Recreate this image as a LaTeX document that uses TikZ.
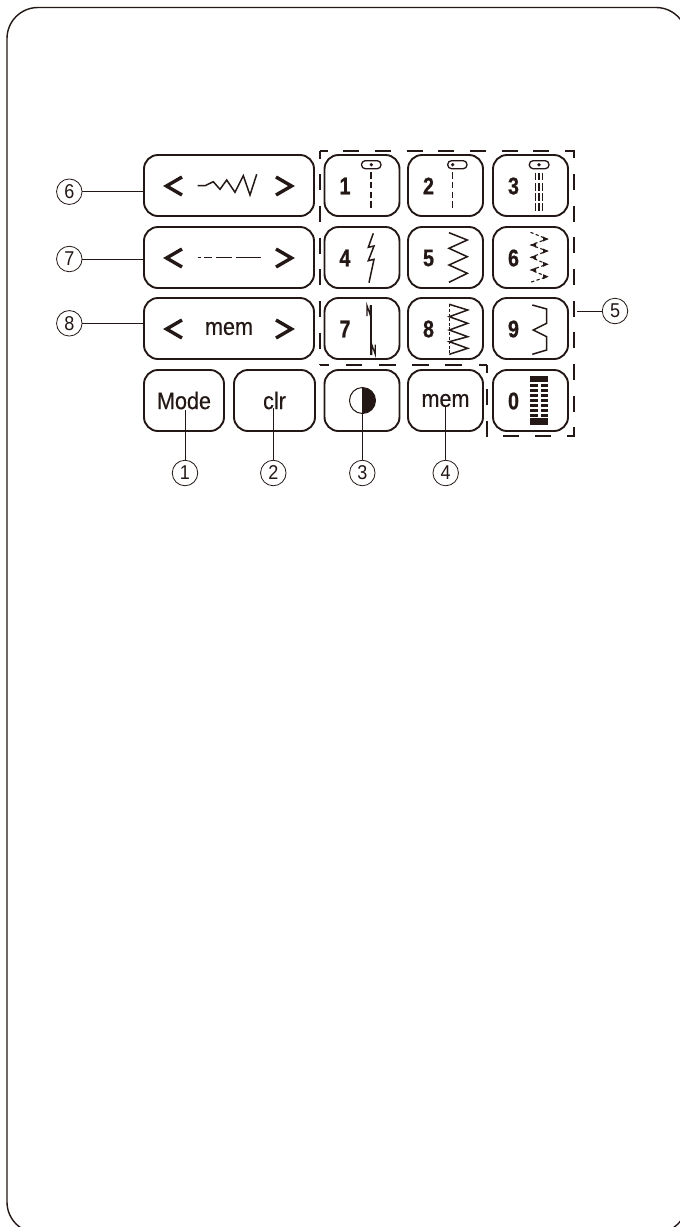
\documentclass[tikz,border=0pt]{standalone}
\usepackage{fontspec}
\usepackage{tikz}
\definecolor{keyink}{RGB}{35, 24, 21}
\newfontfamily\keyfont{Liberation Sans}[FakeStretch=0.9,FakeBold=0.25]
\newfontfamily\numfont{Liberation Sans}[FakeStretch=0.9]
\newfontfamily\digitfont{Liberation Sans}[FakeStretch=0.82,FakeBold=0.8,UprightFont=* Bold]

\begin{document}
\begin{tikzpicture}[
  x=1pt, y=-1pt,
  every node/.style={text=keyink},
  widekey/.style={draw=keyink, line width=1.9pt, rounded corners=14pt, minimum width=170pt, minimum height=61pt, inner sep=0pt, font=\keyfont\fontsize{24}{24}\selectfont},
  smallkey/.style={draw=keyink, line width=1.9pt, rounded corners=14pt, minimum width=75pt, minimum height=61pt, inner sep=0pt, font=\keyfont\fontsize{24}{24}\selectfont},
  digit/.style={font=\digitfont\fontsize{24}{24}\selectfont, inner sep=0pt},
  callout/.style={circle, draw=keyink, line width=0.8pt, minimum size=25.5pt, inner sep=0pt, font=\numfont\fontsize{20}{20}\selectfont},
  leader/.style={draw=keyink, line width=1pt},
  chevron/.style={draw=keyink, line width=3.4pt, miter limit=10},
  stitch/.style={draw=keyink, line width=1.5pt, line join=miter},
  needle/.style={draw=keyink, line width=1.3pt, rounded corners=3.8pt, fill=white},
  groupline/.style={draw=keyink, line width=1.3pt, dash pattern=on 16pt off 15.7pt, dash phase=8.5pt}
]
\useasboundingbox (0,0) rectangle (680,1227);
\clip (0,0) rectangle (680,1227);
\fill[white] (0,0) rectangle (680,1227);

% Panel outline
\draw[keyink, line width=1.4pt, rounded corners=31pt] (7,7.5) rectangle (687,1233);

% Group of pattern keys
\draw[groupline] (320,151) -- (320,365);
\draw[groupline] (320,151) -- (574,151) -- (574,436) -- (487,436) -- (487,365);
\draw[groupline, dash pattern=on 16.7pt off 16.6pt, dash phase=8.4pt] (487,365) -- (320,365);

% Wide keys
\node[widekey] (keyStitch) at (229,185.5) {};
\node[widekey] (keyLength) at (229,257.5) {};
\node[widekey] (keyMem) at (229,328.5) {\raisebox{-1.5pt}{mem}};
\foreach \cy in {186,258,329} {
  \draw[chevron] (182,\cy-9) -- (166.5,\cy) -- (182,\cy+9);
  \draw[chevron] (276,\cy-9) -- (291.5,\cy) -- (276,\cy+9);
}

% Bottom row
\node[smallkey, minimum width=80pt] (keyMode) at (184,400.5) {Mode};
\node[smallkey, minimum width=81pt] (keyClr) at (274.5,400.5) {clr};
\node[smallkey] (keyTone) at (362,400.5) {};
\node[smallkey] (keyStore) at (445.5,400.5) {\raisebox{-1.5pt}{mem}};

% Pattern keys with their digits
\foreach \n/\cx/\cy in {1/362/185.5, 2/445.5/185.5, 3/530.5/185.5,
                        4/362/257.5, 5/445.5/257.5, 6/530.5/257.5,
                        7/362/328.5, 8/445.5/328.5, 9/530.5/328.5,
                        0/530.5/400.5} {
  \node[smallkey] (key\n) at (\cx,\cy) {};
  \node[digit] (digit\n) at ([xshift=-17pt,yshift=-0.5pt]key\n.center) {\n};
}

% Stitch icons on the wide keys
\draw[stitch] (197.7,185.7) -- (205,185.7) -- (213.3,181.7) -- (220,189.3) -- (226.7,180) -- (235,192.3) -- (243.3,175.7) -- (250,195) -- (256.7,174.3);
\draw[stitch, line width=1.5pt] (197.7,257.7) -- (201,257.7) (204,257.7) -- (212.3,257.7) (216,257.7) -- (231.7,257.7) (236,257.7) -- (260.7,257.7);

% Keys 1 to 3
\draw[stitch, dash pattern=on 6.5pt off 3.3pt] (371,172) -- (371,211);
\draw[needle] (361.5,160.7) rectangle (381,168.7);
\fill[keyink] (371.3,164.7) circle (1.8);
\draw[stitch, dash pattern=on 6.5pt off 3.3pt] (452.7,172) -- (452.7,211);
\draw[needle] (447.7,160.7) rectangle (467,168.7);
\fill[keyink] (452.7,164.7) circle (1.8);
\foreach \sx in {535.3,539,542.7}
  \draw[stitch, line width=1.2pt, dash pattern=on 7.6pt off 2.6pt] (\sx,172.7) -- (\sx,211);
\draw[needle] (529.3,160.7) rectangle (549,168.7);
\fill[keyink] (539,164.7) circle (1.8);

% Keys 4 to 6
\draw[stitch] (373.3,233.3) -- (368.3,247.3) -- (374,246) -- (368.3,260.7) -- (374,259.3) -- (369,282.7);
\draw[stitch] (449,232.7) -- (467.3,240) -- (449,248.3) -- (467.3,256.7) -- (449,265) -- (467.3,273.3) -- (449,282.3);
\draw[stitch, line width=1.1pt, dash pattern=on 3.2pt off 2.4pt] (530.5,232.3) -- (547,239) -- (531,245) -- (547,251) -- (531,257.3) -- (547,264.3) -- (531,270) -- (547,276.7) -- (530.5,282.3);
\foreach \ty in {239,251,264.3,276.7}
  \fill[keyink] (548.5,\ty) -- (543,\ty-2.5) -- (543,\ty+2.5) -- cycle;
\foreach \ty in {245,257.3,270}
  \fill[keyink] (530.5,\ty) -- (536,\ty-2.5) -- (536,\ty+2.5) -- cycle;

% Keys 7 to 9
\draw[stitch] (371,305) -- (371,355);
\draw[stitch, line width=1.2pt] (367,316) -- (367,305.5) -- (370.3,315.5) -- (370.3,305.5);
\draw[stitch, line width=1.2pt] (371.8,355) -- (371.8,344.5) -- (375.3,354.5) -- (375.3,344.5);
\draw[stitch, line width=1.1pt, dash pattern=on 3pt off 1.6pt] (449.3,304.3) -- (449.3,354.3);
\draw[stitch] (449.3,304.3) -- (467.7,310) -- (449.3,316.7) -- (467.7,323.3) -- (449.3,330) -- (467.7,336.7) -- (449.3,341.7) -- (467.7,348.3) -- (449.3,354.3);
\draw[stitch] (532.3,305) -- (546.7,309) -- (546.7,323.3) -- (533.3,330) -- (546.7,336.7) -- (546.7,350) -- (532.3,354.3);

% Key 0
\fill[keyink] (530,376) rectangle (548.3,382.3);
\fill[keyink] (530,418.3) rectangle (548.3,425);
\foreach \ry in {384.3,389.3,...,414.3} {
  \fill[keyink] (530,\ry) rectangle (538.3,\ry+3);
  \fill[keyink] (540.7,\ry) rectangle (548.3,\ry+3);
}

% Half circle symbol
\fill[keyink] (362.5,387.7) arc[start angle=90, end angle=-90, x radius=13, y radius=-12.8] -- cycle;
\draw[keyink, line width=1pt] (362.5,400.5) circle (13);

% Callouts
\node[callout] (numOne) at (185,473) {1};
\node[callout] (numTwo) at (273.3,473) {2};
\node[callout] (numThree) at (362.3,473) {3};
\node[callout] (numFour) at (445.7,473) {4};
\node[callout] (numFive) at (615,311) {5};
\node[callout] (numSix) at (69.3,191.7) {6};
\node[callout] (numSeven) at (69.3,259) {7};
\node[callout] (numEight) at (69.3,323.3) {8};

% Free ends of the leaders
\coordinate (tipMode) at (185,410);
\coordinate (tipClr) at (273.3,408);
\coordinate (tipTone) at (362.3,388);
\coordinate (tipStore) at (445.7,407);
\coordinate (tipGroup) at (577,311);

\draw[leader] (numOne) -- (tipMode);
\draw[leader] (numTwo) -- (tipClr);
\draw[leader] (numThree) -- (tipTone);
\draw[leader] (numFour) -- (tipStore);
\draw[leader] (numFive) -- (tipGroup);
\draw[leader] (numSix) -- (numSix -| keyStitch.west);
\draw[leader] (numSeven) -- (numSeven -| keyLength.west);
\draw[leader] (numEight) -- (numEight -| keyMem.west);
\end{tikzpicture}
\end{document}
